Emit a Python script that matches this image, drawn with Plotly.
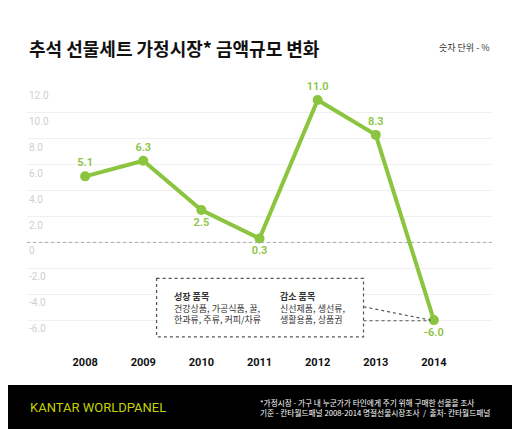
import plotly.graph_objects as go

years = [2008, 2009, 2010, 2011, 2012, 2013, 2014]
growth = [5.1, 6.3, 2.5, 0.3, 11.0, 8.3, -6.0]
label_pos = ["top center", "top center", "bottom center", "bottom center",
             "top center", "top center", "bottom center"]

y_ticks = [12, 10, 8, 6, 4, 2, 0, -2, -4, -6]
y_tick_text = ["12.0", "10.0", "8.0", "6.0", "4.0", "2.0", "0", "-2.0", "-4.0", "-6.0"]

title = "추석 선물세트 가정시장* 금액규모 변화"
unit_note = "숫자 단위 - %"
grow_items = ["건강상품, 가공식품, 꿀,", "한과류, 주류, 커피/차류"]
shrink_items = ["신선제품, 생선류,", "생활용품, 상품권"]
footnote = [
    "*가정시장 - 가구 내 누군가가 타인에게 주기 위해 구매한 선물을 조사",
    "기준 - 칸타월드패널 2008-2014 명절선물시장조사  /  출처- 칸타월드패널",
]

GREEN = "#8bc43f"
FONT = "Roboto, Noto Sans CJK KR, sans-serif"
KFONT = "Noto Sans CJK KR, sans-serif"


def py(v):
    # page pixel row -> paper y (plot area spans rows 87..346)
    return (346 - v) / 259


def px(v):
    # page pixel column -> paper x (plot area spans columns 27..492)
    return (v - 27) / 465


fig = go.Figure()

fig.add_trace(
    go.Scatter(
        x=years,
        y=growth,
        mode="lines+markers+text",
        line={"color": GREEN, "width": 4},
        marker={"color": GREEN, "size": 10},
        texttemplate="%{y:.1f}",
        textposition=label_pos,
        textfont={"color": GREEN, "size": 11, "family": FONT, "weight": 600},
        cliponaxis=False,
        showlegend=False,
        hoverinfo="skip",
    )
)

# y tick labels hang below their grid lines
for val, txt in zip(y_ticks, y_tick_text):
    fig.add_annotation(
        x=0, xref="paper", y=val, yref="y", text=txt, showarrow=False,
        xanchor="left", yanchor="top", yshift=-1,
        font={"size": 10, "color": "#cfcfcf", "family": FONT},
    )

# dotted zero line
fig.add_shape(type="line", xref="paper", x0=0, x1=1, yref="y", y0=0, y1=0,
              line={"color": "#a8a8a8", "width": 1, "dash": "dot"})

# note box with items
fig.add_shape(type="rect", xref="x", yref="y", x0=2009.23, x1=2012.79, y0=-2.78, y1=-7.29,
              line={"color": "#555555", "width": 1.2, "dash": "dot"}, fillcolor="white")
fig.add_shape(type="line", xref="x", yref="y", x0=2012.79, y0=-4.97, x1=years[-1] - 0.06, y1=growth[-1],
              line={"color": "#555555", "width": 1.2, "dash": "dot"})
fig.add_shape(type="line", xref="x", yref="y", x0=2012.79, y0=-6.05, x1=years[-1] - 0.06, y1=-6.05,
              line={"color": "#555555", "width": 1.2, "dash": "dot"})

fig.add_annotation(
    x=2009.5, y=-5.05, xref="x", yref="y", showarrow=False, xanchor="left", yanchor="middle",
    align="left", text="<b>성장 품목</b><br>" + "<br>".join(grow_items),
    font={"size": 9, "color": "#333333", "family": KFONT},
)
fig.add_annotation(
    x=2011.32, y=-5.05, xref="x", yref="y", showarrow=False, xanchor="left", yanchor="middle",
    align="left", text="<b>감소 품목</b><br>" + "<br>".join(shrink_items),
    font={"size": 9, "color": "#333333", "family": KFONT},
)

# title and unit
fig.add_annotation(
    x=0, xref="paper", y=py(48), yref="paper", yanchor="middle", xanchor="left", showarrow=False,
    text=f"<b>{title}</b>", font={"size": 18, "color": "#111111", "family": KFONT},
)
fig.add_annotation(
    x=1, xref="paper", y=py(47), yref="paper", yanchor="middle", xanchor="right",
    showarrow=False, text=unit_note, font={"size": 9, "color": "#333333", "family": KFONT},
)

# footer band
fig.add_shape(type="rect", xref="paper", yref="paper", x0=px(-20), x1=px(540),
              y0=py(385), y1=py(450),
              line={"width": 0}, fillcolor="#000000", layer="below")
fig.add_annotation(
    x=px(28), xref="paper", y=py(407), yref="paper", xanchor="left", yanchor="middle",
    showarrow=False, text="KANTAR WORLDPANEL",
    font={"size": 13, "color": "#c5d200", "family": "Roboto, sans-serif"},
)
fig.add_annotation(
    x=px(258), xref="paper", y=py(407), yref="paper", xanchor="left",
    yanchor="middle", align="left", showarrow=False, text="<br>".join(footnote),
    font={"size": 7.7, "color": "#ffffff", "family": KFONT},
)

fig.update_xaxes(
    range=[2007, 2015], tickvals=years, showgrid=False, zeroline=False, showline=False,
    ticks="", ticklabelstandoff=8,
    tickfont={"size": 11, "color": "#111111", "family": FONT, "weight": "bold"},
)
fig.update_yaxes(
    range=[-8, 12], tickvals=list(range(-8, 13, 2)), showticklabels=False,
    showgrid=True, gridcolor="#f0f0f0", gridwidth=1, zeroline=False, showline=False,
)

# the page body adds an 8px margin, so the figure is 8px smaller on each side
fig.update_layout(
    width=512,
    height=421,
    margin={"l": 19, "r": 28, "t": 79, "b": 83},
    paper_bgcolor="white",
    plot_bgcolor="white",
    showlegend=False,
)

fig.write_html("out.html")
